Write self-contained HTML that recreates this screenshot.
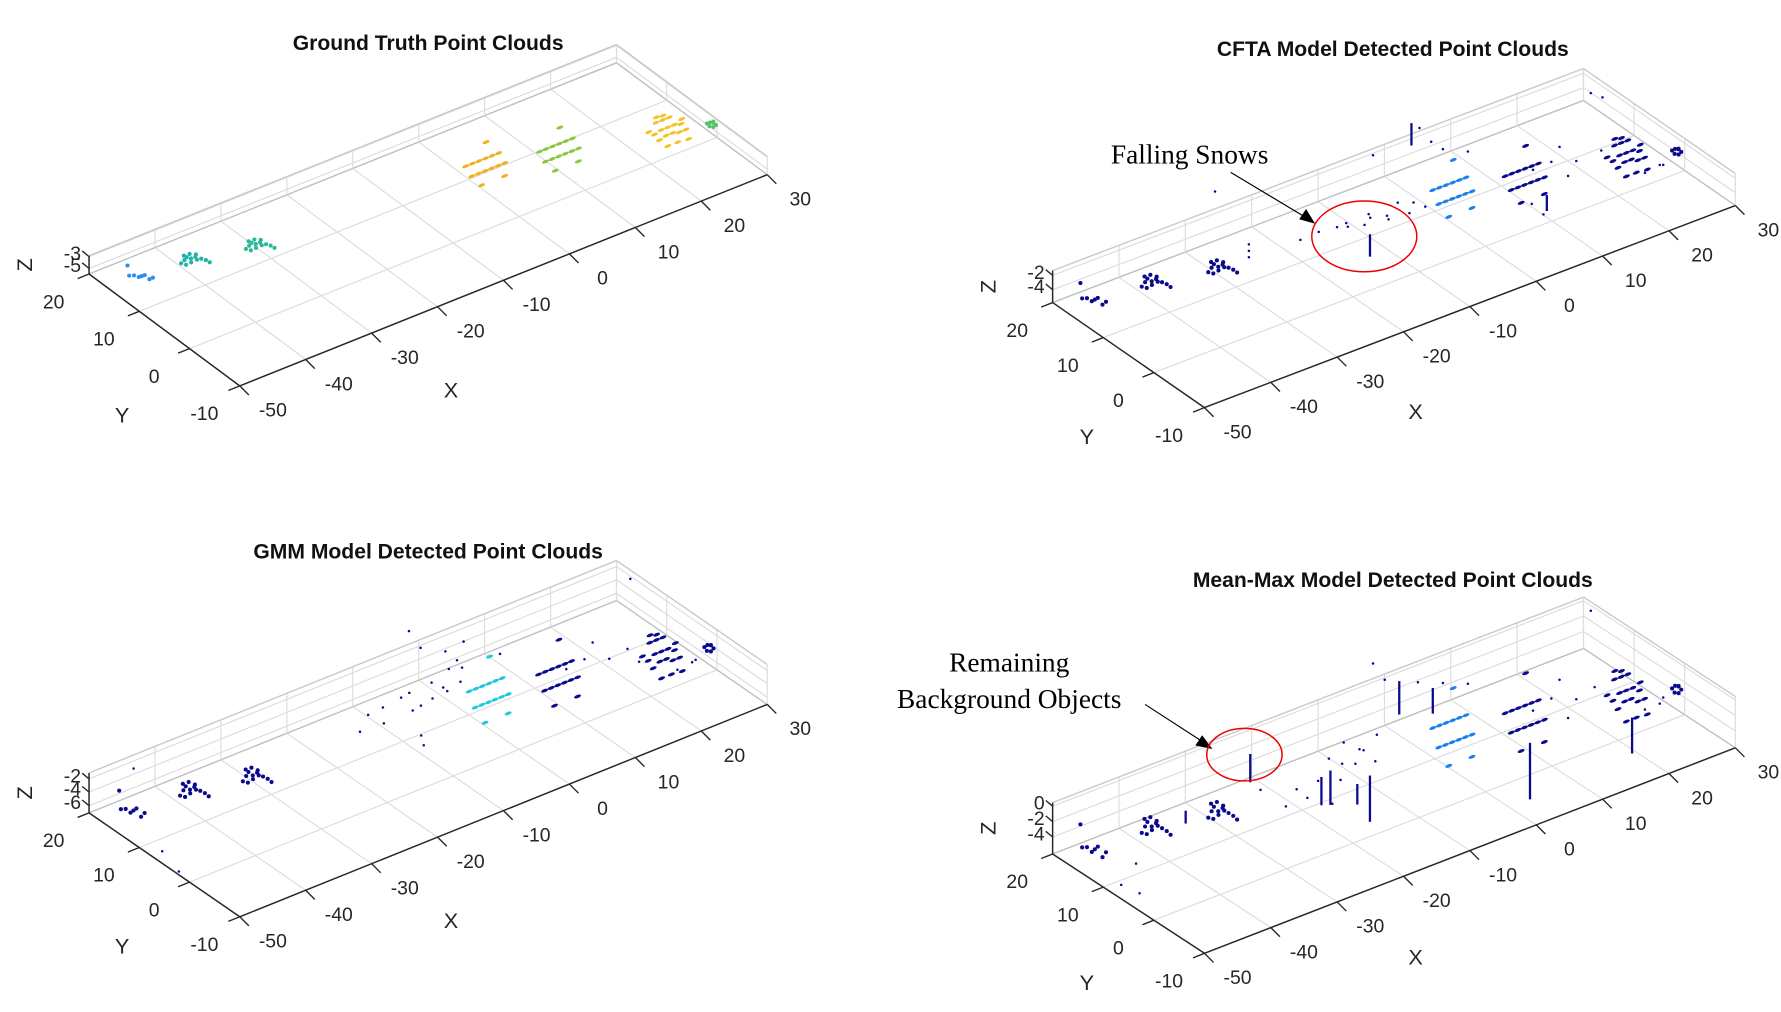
<!DOCTYPE html>
<html><head><meta charset="utf-8"><style>
html,body{margin:0;padding:0;background:#fff;}
svg{display:block;font-family:"Liberation Sans",Arial,sans-serif;}
</style></head><body>
<svg id="fig" width="1781" height="1012" viewBox="0 0 1560 886.4" xmlns="http://www.w3.org/2000/svg">
<rect width="1560" height="886.4" fill="#fff"/>
<g id="root"></g>
<g>
<text x="1042" y="143" font-family="Liberation Serif,serif" font-size="24" text-anchor="middle">Falling Snows</text>
<line x1="1078" y1="151" x2="1148" y2="193" stroke="#000" stroke-width="1"/>
<polygon points="1152,196 1138,192 1144,183" fill="#000"/>
<ellipse cx="1195" cy="207" rx="46" ry="31" fill="none" stroke="#e00" stroke-width="1.3"/>
</g>
<g>
<text x="884" y="588" font-family="Liberation Serif,serif" font-size="24" text-anchor="middle">Remaining</text>
<text x="884" y="620" font-family="Liberation Serif,serif" font-size="24" text-anchor="middle">Background Objects</text>
<line x1="1003" y1="617" x2="1057" y2="652" stroke="#000" stroke-width="1"/>
<polygon points="1062,656 1047,653 1053,644" fill="#000"/>
<ellipse cx="1090" cy="661" rx="33" ry="23" fill="none" stroke="#e00" stroke-width="1.3"/>
</g>
</svg>
<script>
// ---- data ----
const xTicks = [-50,-40,-30,-20,-10,0,10,20,30];
const yTicks = [-10,0,10,20];
const panelTitles = ["Ground Truth Point Clouds","CFTA Model Detected Point Clouds","GMM Model Detected Point Clouds","Mean-Max Model Detected Point Clouds"];
const zTickLabels = [["-3","-5"],["-2","-4"],["-2","-4","-6"],["0","-2","-4"]];
const zTickFrac = [[0.95,0.3],[0.85,0.4],[0.85,0.52,0.18],[0.93,0.63,0.33]];
// objects: [x, y, zFrac, template, color]
const gtObjects = [[-45.5,16,0.1,0,"#2a8ff0"],[-38.5,14.8,0.2,1,"#1fb5a6"],[-30.2,12.8,0.2,1,"#28b89a"],[2.7,10.3,0.2,2,"#f0b020"],[11.9,7.7,0.2,2,"#8cc83c"],[25.5,3.9,0.3,3,"#f5c228"],[30,1.5,0.3,4,"#5ac06a"]];
const cftaObjects = [[-46,17.5,0.1,0,"#0a0a8c"],[-38.5,15.5,0.2,1,"#0a0a8c"],[-30,13.5,0.2,1,"#0a0a8c"],[3,10.5,0.2,2,"#1a7ff0"],[12,8,0.2,2,"#0a0a8c"],[25,5,0.3,3,"#0a0a8c"],[30,2,0.3,4,"#0a0a8c"]];
const gmmObjects = [[-46,17,0.1,0,"#0a0a8c"],[-38.5,15,0.2,1,"#0a0a8c"],[-30.5,13,0.2,1,"#0a0a8c"],[3,10,0.2,2,"#20c8e0"],[12,8,0.2,2,"#0a0a8c"],[25,4.5,0.3,3,"#0a0a8c"],[30,2,0.3,4,"#0a0a8c"]];
const mmObjects = [[-46,17.5,0.1,0,"#0a0a8c"],[-38.5,15.5,0.2,1,"#0a0a8c"],[-30,13.5,0.2,1,"#0a0a8c"],[3,10.5,0.2,2,"#1a7ff0"],[12,8,0.2,2,"#0a0a8c"],[25,5,0.3,3,"#0a0a8c"],[30,2,0.3,4,"#0a0a8c"]];
// scattered points [x, y, zFrac]
const cftaDots = [[-16,12,0.4],[-14,11,0.5],[-13,10.5,0.6],[-12,11.5,0.3],[-11,9.5,0.5],[-10,10,0.7],[-9,11,0.4],[-8,9,0.6],[-7,10,0.3],[-6,9.5,0.8],[-5,8.5,0.5],[-4,9,0.7],[-3,8,0.6],[-18,13,0.2],[-25,14,0.5],[-25,14,0.3],[-25,14,0.1],[-4,17,1.3],[3,17,1.6],[4,16,1.2],[5,15,1.0],[8,14,0.8],[14,9,0.3],[16,8,0.5],[17,6,0.2],[18,9,0.7],[19,7,0.4],[10,4,0.1],[11,3,-0.2],[22,6,0.6],[24,0,0.4],[26,-1,0.6],[27,1,0.3],[25,12,1.5],[26,11,1.4],[-24,22,1.2]];
const gmmDots = [[-15,12,0.4],[-13,13,0.6],[-11,12.5,0.3],[-10,14,0.5],[-8,13,0.7],[-7,12,0.4],[-6,14,0.6],[-5,13,0.3],[-4,12,0.5],[-3,13.5,0.7],[-2,12.5,0.6],[-1,13,0.4],[0,14,0.8],[1,13,0.5],[2,14,0.7],[-8,9,0.1],[-8,8.5,-0.1],[-3,18,1.6],[-2,17,1.2],[1,16,1.0],[2,15,0.8],[3,15,1.2],[7,13,0.8],[14,9,0.3],[16,8,0.5],[18,9,0.7],[19,7,0.4],[21,6,0.6],[22,5,0.3],[24,0,0.4],[26,-1,0.6],[27,1,0.3],[26,12,1.5],[-45,12,-0.6],[-44,10,-1.0],[-44,19,0.8]];
const mmDots = [[-24,8,0.4],[-22,8.5,0.6],[-20,9,0.3],[-18,9.5,0.5],[-16,10,0.8],[-15,9,0.4],[-14,10,0.6],[-13,11,0.9],[-12,10,0.5],[-11,10.5,0.7],[-10,11,0.6],[-9,10,0.4],[-8,11,0.8],[-17,8,0.1],[-4,17,1.6],[-3,16,1.3],[2,16,1.0],[5,15,0.9],[8,14,0.8],[14,9,0.3],[16,8,0.5],[17,6,0.2],[18,9,0.7],[19,7,0.4],[21,6,0.6],[24,0,0.4],[26,-1,0.6],[27,1,0.3],[25,12,1.5],[-45,13,-0.4],[-43,12,-0.6],[-42,14,-0.2],[-24,13,0.4]];
// vertical poles [x, y, zFrac0, zFrac1]
const mmPoles = [[-16.6,8.9,0,0.67],[-17.5,9.5,0,0.55],[-15.3,2.8,0,0.9],[-20.9,19.1,0,0.55],[3,21,0,0.65],[6.3,18.7,0,0.5],[3.1,-4.7,0,1.1],[19.4,-3.5,0,0.7],[-33,16,0,0.25],[-14,7,0,0.4]];
const cftaPoles = [[-12.7,6.2,0,0.7],[5.6,22,0.3,1.0],[10.9,2.2,0,0.5]];
// object templates: offsets [dx, dy, dzFrac]
const templates = [
 [[-1,0.6,0],[-0.5,0.3,0],[0,0,-0.1],[0.6,-0.4,0],[1,-0.8,-0.2],[-0.8,1.2,0.4],[1.3,-1.1,-0.1],[0.3,-0.2,-0.05]],
 [[-1.5,0,0],[-1,0,0.1],[-0.5,0.2,0.15],[0,0,0.05],[0.5,-0.2,0.1],[-1.2,-0.6,0],[-0.5,-0.7,0.05],[0.3,-0.8,0.1],[1.1,-0.6,0],[1.5,-1,-0.05],[1.7,-1.5,-0.1],[-0.7,0.5,0.2],[0.1,0.4,0.2],[0.9,0.2,0.1]],
 [[-2.5,0.6,0.3],[-1.5,0.6,0.3],[-0.5,0.6,0.3],[0.5,0.6,0.3],[1.5,0.6,0.3],[2.5,0.6,0.3],[-2.5,-0.6,0],[-1.5,-0.6,0],[-0.5,-0.6,0],[0.5,-0.6,0],[1.5,-0.6,0],[2.5,-0.6,0],[-2,-1.9,-0.3],[1.5,-1.9,-0.3],[1.5,1.8,0.8]],
 [[-2,0,0],[-1,0,0.1],[0,0,0.1],[1,0,0.1],[2,0,0],[-2,-1,-0.1],[-1,-1,0],[0,-1,0],[1,-1,-0.1],[2,-1,-0.1],[-1,1,0.3],[0,1,0.3],[1,1,0.3],[-0.5,1.6,0.4],[0.5,1.6,0.35],[-1.5,-2,-0.3],[0,-2,-0.3],[1.5,-2.2,-0.3],[-2.5,0.5,0.1],[2.5,0.5,0.1]],
 [[0,0,0],[0.3,0.3,0.1],[0.6,0,0.1],[0.3,-0.4,0],[0.7,-0.4,0.05],[0,0.5,0.05],[0.9,0.4,0.05]]
];
// ---- panels geometry ----
const panels = [
 {name:"ground-truth",O:[210,338],vX:[462,-185],vY:[-132,-98],zH:16,title:[375,44],objs:gtObjects,dots:[],poles:[]},
 {name:"cfta",O:[1055,357],vX:[465,-177],vY:[-133,-92],zH:28,title:[1220,49],objs:cftaObjects,dots:cftaDots,poles:cftaPoles},
 {name:"gmm",O:[210,803],vX:[462,-186],vY:[-132,-91],zH:35,title:[375,489],objs:gmmObjects,dots:gmmDots,poles:[]},
 {name:"mean-max",O:[1055,835],vX:[465,-180],vY:[-133,-87],zH:45,title:[1220,514],objs:mmObjects,dots:mmDots,poles:mmPoles}
];
const NS="http://www.w3.org/2000/svg";
const root=document.getElementById('root');
function mk(tag,attrs,parent){const e=document.createElementNS(NS,tag);for(const k in attrs)e.setAttribute(k,attrs[k]);parent.appendChild(e);return e;}
panels.forEach((p,pi)=>{
 const g=mk('g',{},root);
 
 
 const P=(x,y,zf)=>{const a=(x+50)/80,b=(y+10)/30;return [p.O[0]+a*p.vX[0]+b*p.vY[0], p.O[1]+a*p.vX[1]+b*p.vY[1]-zf*p.zH];};
 const line=(a,b,st,w,parent)=>mk('line',{x1:a[0],y1:a[1],x2:b[0],y2:b[1],stroke:st,'stroke-width':w},parent||g);
 const grid='#dcdcdc';
 xTicks.slice(1,-1).forEach(x=>line(P(x,-10,0),P(x,20,0),grid,1));
 yTicks.slice(1,-1).forEach(y=>line(P(-50,y,0),P(30,y,0),grid,1));
 line(P(-50,20,0),P(30,20,0),'#bdbdbd',1.2);
 line(P(30,20,0),P(30,-10,0),'#bdbdbd',1.2);
 xTicks.forEach(x=>line(P(x,20,0),P(x,20,1),grid,1));
 zTickFrac[pi].forEach(f=>line(P(-50,20,f),P(30,20,f),grid,1));
 line(P(-50,20,1),P(30,20,1),'#c8c8c8',1.2);
 yTicks.forEach(y=>line(P(30,y,0),P(30,y,1),grid,1));
 zTickFrac[pi].forEach(f=>line(P(30,20,f),P(30,-10,f),grid,1));
 line(P(30,20,1),P(30,-10,1),'#c8c8c8',1.2);
 const ax='#262626';
 const xa=line(P(-50,-10,0),P(30,-10,0),ax,1.3);
 
 
 const ya=line(P(-50,-10,0),P(-50,20,0),ax,1.3);
 
 
 const za=line(P(-50,20,0),P(-50,20,1),ax,1.3);
 
 
 const tl=(x,y,s)=>{const t=mk('text',{x:x,y:y,'font-size':17,'text-anchor':'middle',fill:'#262626'},g);t.textContent=s;return t;};
 xTicks.forEach(x=>{const a=P(x,-10,0);line(a,[a[0]+8,a[1]+8],ax,1.2);
  const t=tl(a[0]+29,a[1]+27,String(x));
  
  });
 yTicks.forEach(y=>{const a=P(-50,y,0);line(a,[a[0]-10,a[1]+4],ax,1.2);
  const t=tl(a[0]-31,a[1]+30,String(y));
  
  });
 zTickFrac[pi].forEach((f,i)=>{const a=P(-50,20,f);line(a,[a[0]-6,a[1]-5],ax,1.2);
  const t=mk('text',{x:a[0]-7,y:a[1]+3,'font-size':17,'text-anchor':'end',fill:'#262626'},g);t.textContent=zTickLabels[pi][i];
  
  });
 const xl=tl(p.O[0]+185,p.O[1]+10,'X');xl.setAttribute('font-size',19);
 
 
 const yl=tl(p.O[0]-103,p.O[1]+32,'Y');yl.setAttribute('font-size',19);
 
 
 const zc=P(-50,20,0.5);
 const zl=mk('text',{x:0,y:0,'font-size':19,'text-anchor':'middle',fill:'#262626',transform:`translate(${zc[0]-50},${zc[1]}) rotate(-90)`},g);zl.textContent='Z';
 
 
 const tt=mk('text',{x:p.title[0],y:p.title[1],'font-size':18.5,'font-weight':'bold','text-anchor':'middle',fill:'#111'},g);tt.textContent=panelTitles[pi];
 
 
 const pts=mk('g',{},g);
 
 
 p.objs.forEach(o=>{templates[o[3]].forEach(d=>{const q=P(o[0]+d[0],o[1]+d[1],o[2]+d[2]);
  if(o[3]===2||o[3]===3){mk('ellipse',{cx:q[0],cy:q[1],rx:3.2,ry:1.4,fill:o[4],transform:`rotate(-21 ${q[0]} ${q[1]})`},pts);}
  else mk('circle',{cx:q[0],cy:q[1],r:1.8,fill:o[4]},pts);});});
 p.dots.forEach(d=>{const q=P(d[0],d[1],d[2]);mk('circle',{cx:q[0],cy:q[1],r:1.1,fill:'#0a0a8c'},pts);});
 p.poles.forEach(d=>{const a=P(d[0],d[1],d[2]),b=P(d[0],d[1],d[3]);line(a,b,'#0a0a8c',2,pts);});
});
</script>
</body></html>
